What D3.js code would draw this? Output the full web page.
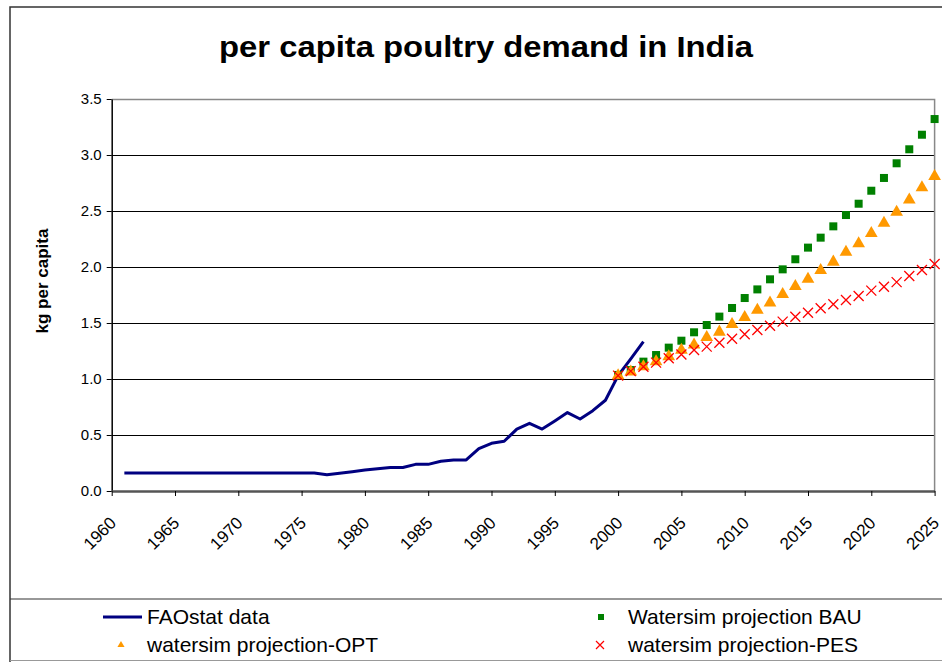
<!DOCTYPE html>
<html>
<head>
<meta charset="utf-8">
<script src="https://cdn.jsdelivr.net/npm/d3@7"></script>
<style>
  body { margin: 0; background: #fff; }
  text { font-family: Arial, "Liberation Sans", sans-serif; }
</style>
</head>
<body>
<div id="chart"></div>
<script>
// FAOstat series, 1961-2002
var faoYears = d3.range(1961, 2003);
var faoValues = [
  0.16, 0.16, 0.16, 0.16, 0.16, 0.16, 0.16, 0.16, 0.16, 0.16,
  0.16, 0.16, 0.16, 0.16, 0.16, 0.16, 0.145, 0.158, 0.172, 0.187,
  0.198, 0.21, 0.21, 0.238, 0.238, 0.265, 0.277, 0.277, 0.378, 0.426,
  0.444, 0.553, 0.604, 0.553, 0.625, 0.70, 0.643, 0.717, 0.81, 1.03,
  1.18, 1.333
];

// projections, 2000-2025
var projYears = d3.range(2000, 2026);
var bauValues = [
  1.036, 1.08, 1.155, 1.214, 1.28, 1.342, 1.417, 1.482, 1.557, 1.634,
  1.723, 1.80, 1.89, 1.979, 2.069, 2.173, 2.262, 2.363, 2.464, 2.565,
  2.681, 2.795, 2.926, 3.051, 3.181, 3.321
];
var optValues = [
  1.03, 1.065, 1.11, 1.155, 1.20, 1.259, 1.304, 1.372, 1.42, 1.488,
  1.55, 1.616, 1.68, 1.756, 1.827, 1.893, 1.97, 2.045, 2.134, 2.21,
  2.30, 2.393, 2.49, 2.60, 2.71, 2.81
];
var pesValues = [
  1.03, 1.07, 1.11, 1.146, 1.185, 1.218, 1.259, 1.289, 1.324, 1.36,
  1.40, 1.4375, 1.476, 1.512, 1.556, 1.592, 1.631, 1.667, 1.705, 1.741,
  1.789, 1.824, 1.865, 1.92, 1.973, 2.027
];

var xTicks = d3.range(1960, 2026, 5);
var yTicks = [0, 0.5, 1.0, 1.5, 2.0, 2.5, 3.0, 3.5];

var svgWidth = 942;
var svgHeight = 662;
var margin = { top: 99, right: 7.4, bottom: 171, left: 111.7 };
var width = svgWidth - margin.left - margin.right;
var height = svgHeight - margin.top - margin.bottom;

var svg = d3.select("#chart")
  .append("svg")
  .attr("width", svgWidth)
  .attr("height", svgHeight);

// outer frame + legend box
svg.append("path")
  .attr("d", "M10,662 L10,7 L960,7")
  .attr("fill", "none")
  .attr("stroke", "#333")
  .attr("stroke-width", 1.5);
svg.append("line")
  .attr("x1", 10).attr("x2", 942).attr("y1", 599).attr("y2", 599)
  .attr("stroke", "#333").attr("stroke-width", 1.2);
svg.append("line")
  .attr("x1", 10).attr("x2", 942).attr("y1", 660.5).attr("y2", 660.5)
  .attr("stroke", "#999").attr("stroke-width", 1.2);

// title
svg.append("text")
  .attr("x", 486)
  .attr("y", 57)
  .attr("text-anchor", "middle")
  .attr("font-size", "30px")
  .attr("font-weight", "bold")
  .attr("textLength", 534)
  .attr("lengthAdjust", "spacingAndGlyphs")
  .text("per capita poultry demand in India");

var chartGroup = svg.append("g")
  .attr("transform", `translate(${margin.left}, ${margin.top})`);

var xScale = d3.scaleLinear().domain([1960, 2025]).range([0, width]);
var yScale = d3.scaleLinear().domain([0, 3.5]).range([height, 0]);

// gridlines
chartGroup.selectAll(".grid")
  .data(yTicks.filter(d => d > 0 && d < 3.5))
  .enter()
  .append("line")
  .attr("x1", 0).attr("x2", width)
  .attr("y1", d => Math.round(yScale(d)) + 0.5)
  .attr("y2", d => Math.round(yScale(d)) + 0.5)
  .attr("stroke", "#000")
  .attr("stroke-width", 1);

// plot border (top / right)
chartGroup.append("path")
  .attr("d", `M0,0.5 L${width},0.5 L${width},${height}`)
  .attr("fill", "none")
  .attr("stroke", "#888")
  .attr("stroke-width", 1.5);

// axes
var leftAxis = d3.axisLeft(yScale)
  .tickValues(yTicks)
  .tickFormat(d3.format(".1f"))
  .tickSizeInner(5)
  .tickSizeOuter(0);
var bottomAxis = d3.axisBottom(xScale)
  .tickValues(xTicks)
  .tickFormat(d3.format("d"))
  .tickSizeInner(5)
  .tickSizeOuter(0);

var yAxisG = chartGroup.append("g").call(leftAxis);
yAxisG.select(".domain").attr("stroke", "#000").attr("stroke-width", 1.5);
yAxisG.selectAll(".tick line").attr("stroke", "#000");
yAxisG.selectAll(".tick text")
  .attr("x", -10)
  .attr("font-size", "15px")
  .attr("font-family", "Arial, 'Liberation Sans', sans-serif")
  .attr("fill", "#000");

var xAxisG = chartGroup.append("g")
  .attr("transform", `translate(0, ${height})`)
  .call(bottomAxis);
xAxisG.select(".domain").attr("stroke", "#555").attr("stroke-width", 2.5);
xAxisG.selectAll(".tick line").attr("stroke", "#000");
xAxisG.selectAll(".tick text")
  .attr("font-size", "17px")
  .attr("font-family", "Arial, 'Liberation Sans', sans-serif")
  .attr("fill", "#000")
  .attr("text-anchor", "end")
  .attr("x", 0)
  .attr("y", 0)
  .attr("dy", 0)
  .attr("transform", "translate(5, 33) rotate(-45)");

// FAO line
var faoData = faoYears.map((y, i) => ({ year: y, value: faoValues[i] }));
chartGroup.append("path")
  .datum(faoData)
  .attr("fill", "none")
  .attr("stroke", "#000080")
  .attr("stroke-width", 3)
  .attr("stroke-linejoin", "round")
  .attr("d", d3.line().x(d => xScale(d.year)).y(d => yScale(d.value)));

// BAU squares
chartGroup.selectAll(".bau")
  .data(projYears.map((y, i) => ({ year: y, value: bauValues[i] })))
  .enter()
  .append("rect")
  .attr("x", d => xScale(d.year) - 4)
  .attr("y", d => yScale(d.value) - 4)
  .attr("width", 8)
  .attr("height", 8)
  .attr("fill", "#008000");

// OPT triangles
var tri = d3.symbol().type(d3.symbolTriangle).size(70);
chartGroup.selectAll(".opt")
  .data(projYears.map((y, i) => ({ year: y, value: optValues[i] })))
  .enter()
  .append("path")
  .attr("d", tri)
  .attr("transform", d => `translate(${xScale(d.year)}, ${yScale(d.value)})`)
  .attr("fill", "#FF9900");

// PES crosses
function cross(s) {
  return `M${-s},${-s}L${s},${s}M${-s},${s}L${s},${-s}`;
}
chartGroup.selectAll(".pes")
  .data(projYears.map((y, i) => ({ year: y, value: pesValues[i] })))
  .enter()
  .append("path")
  .attr("d", cross(5))
  .attr("transform", d => `translate(${xScale(d.year)}, ${yScale(d.value)})`)
  .attr("fill", "none")
  .attr("stroke", "#FF0000")
  .attr("stroke-width", 1.3);

// y axis title
svg.append("text")
  .attr("transform", "translate(48, 281) rotate(-90)")
  .attr("text-anchor", "middle")
  .attr("font-size", "17px")
  .attr("font-weight", "bold")
  .text("kg per capita");

// legend
var legend = svg.append("g");
legend.append("line")
  .attr("x1", 103).attr("x2", 142).attr("y1", 617).attr("y2", 617)
  .attr("stroke", "#000080").attr("stroke-width", 3);
legend.append("text").attr("x", 147).attr("y", 624)
  .attr("font-size", "21px").text("FAOstat data");

legend.append("rect")
  .attr("x", 598).attr("y", 614).attr("width", 6).attr("height", 6)
  .attr("fill", "#008000");
legend.append("text").attr("x", 628).attr("y", 624)
  .attr("font-size", "21px").text("Watersim projection BAU");

legend.append("path")
  .attr("d", d3.symbol().type(d3.symbolTriangle).size(22))
  .attr("transform", "translate(121, 645)")
  .attr("fill", "#FF9900");
legend.append("text").attr("x", 147).attr("y", 652)
  .attr("font-size", "21px").text("watersim projection-OPT");

legend.append("path")
  .attr("d", cross(4))
  .attr("transform", "translate(600, 645)")
  .attr("fill", "none")
  .attr("stroke", "#FF0000").attr("stroke-width", 1.2);
legend.append("text").attr("x", 628).attr("y", 652)
  .attr("font-size", "21px").text("watersim projection-PES");
</script>
</body>
</html>
